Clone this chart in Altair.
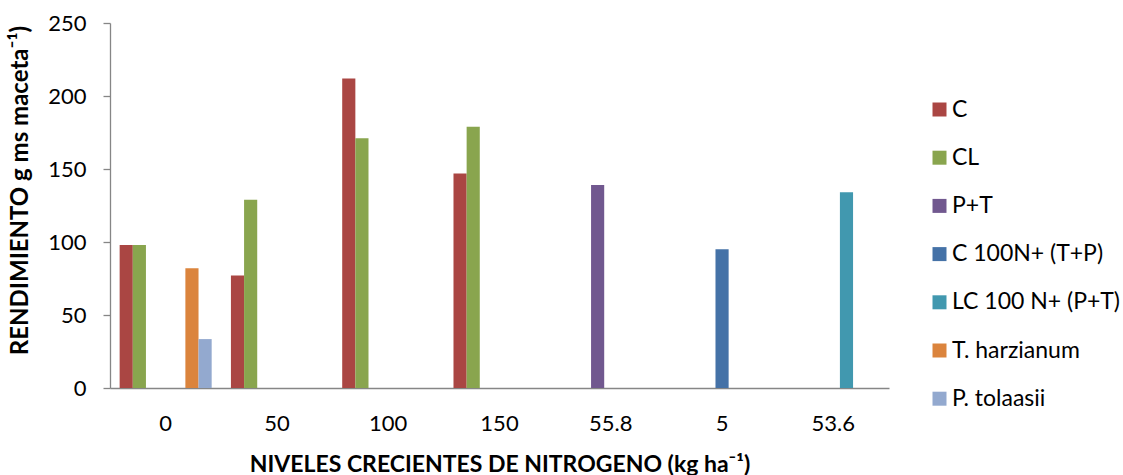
import altair as alt
import pandas as pd

# Nitrogen levels on the category axis
categories = ["0", "50", "100", "150", "55.8", "5", "53.6"]

# Treatment series, in the order they appear in each group
series = ["C", "CL", "P+T", "C 100N+ (T+P)", "LC 100 N+ (P+T)", "T. harzianum", "P. tolaasii"]
colors = ["#AA4643", "#89A54E", "#71588F", "#4572A7", "#4198AF", "#DB843D", "#93A9CF"]

# Yield per treatment and nitrogen level (0 = not measured)
c_vals = [98, 77, 212, 147, 0, 0, 0]
cl_vals = [98, 129, 171, 179, 0, 0, 0]
pt_vals = [0, 0, 0, 0, 139, 0, 0]
c100_vals = [0, 0, 0, 0, 0, 95, 0]
lc100_vals = [0, 0, 0, 0, 0, 0, 134]
th_vals = [82, 0, 0, 0, 0, 0, 0]
ptol_vals = [33.5, 0, 0, 0, 0, 0, 0]

values = [c_vals, cl_vals, pt_vals, c100_vals, lc100_vals, th_vals, ptol_vals]

rows = []
for name, vals in zip(series, values):
    for cat, v in zip(categories, vals):
        if v > 0:
            rows.append({"nivel": cat, "serie": name, "rendimiento": v})
df = pd.DataFrame(rows)

FONT = "Lato"

chart = (
    alt.Chart(df)
    .mark_bar()
    .encode(
        x=alt.X(
            "nivel:N",
            sort=categories,
            scale=alt.Scale(domain=categories, paddingInner=0.173, paddingOuter=0.0867),
            axis=alt.Axis(
                title="NIVELES CRECIENTES DE NITROGENO (kg ha⁻¹)",
                labelAngle=0,
                ticks=False,
                tickSize=0,
                labelPadding=25,
                labelFontSize=22,
                titleFontSize=23,
                titleFontWeight="bold",
                titleBaseline="alphabetic",
                titleY=83,
                titleX=389.5,
                titleAlign="center",
            ),
        ),
        xOffset=alt.XOffset(
            "serie:N",
            scale=alt.Scale(domain=series, paddingInner=0, paddingOuter=0),
        ),
        y=alt.Y(
            "rendimiento:Q",
            scale=alt.Scale(domain=[0, 250], nice=False),
            axis=alt.Axis(
                title="RENDIMIENTO g ms maceta⁻¹)",
                values=[0, 50, 100, 150, 200, 250],
                grid=False,
                tickSize=7,
                labelPadding=17,
                labelFontSize=22,
                labelBaseline="middle",
                titleFontSize=24,
                titleFontWeight="bold",
                titleAngle=-90,
                titleAlign="center",
                titleBaseline="middle",
                titleX=-90,
                titleY=167,
            ),
        ),
        color=alt.Color(
            "serie:N",
            scale=alt.Scale(domain=series, range=colors),
            legend=alt.Legend(
                title=None,
                orient="none",
                legendX=818,
                legendY=75,
                symbolType="square",
                symbolSize=196,
                symbolStrokeWidth=0,
                labelFontSize=23,
                labelOffset=1,
                labelLimit=400,
                rowPadding=24.2,
                padding=0,
            ),
        ),
    )
    .properties(width=779, height=365)
)

chart = chart.properties(
    autosize=alt.AutoSizeParams(type="none"),
    padding={"left": 110, "top": 23, "right": 234, "bottom": 87},
).configure_axis(
    domainColor="#868686",
    tickColor="#868686",
    domainWidth=1.3,
    tickWidth=1.3,
    labelColor="#000000",
    titleColor="#000000",
    labelFont=FONT,
    titleFont=FONT,
).configure_legend(
    labelFont=FONT,
    labelColor="#000000",
).configure_view(stroke=None)

chart.save("out.html", embed_options={"renderer": "svg", "actions": False})
